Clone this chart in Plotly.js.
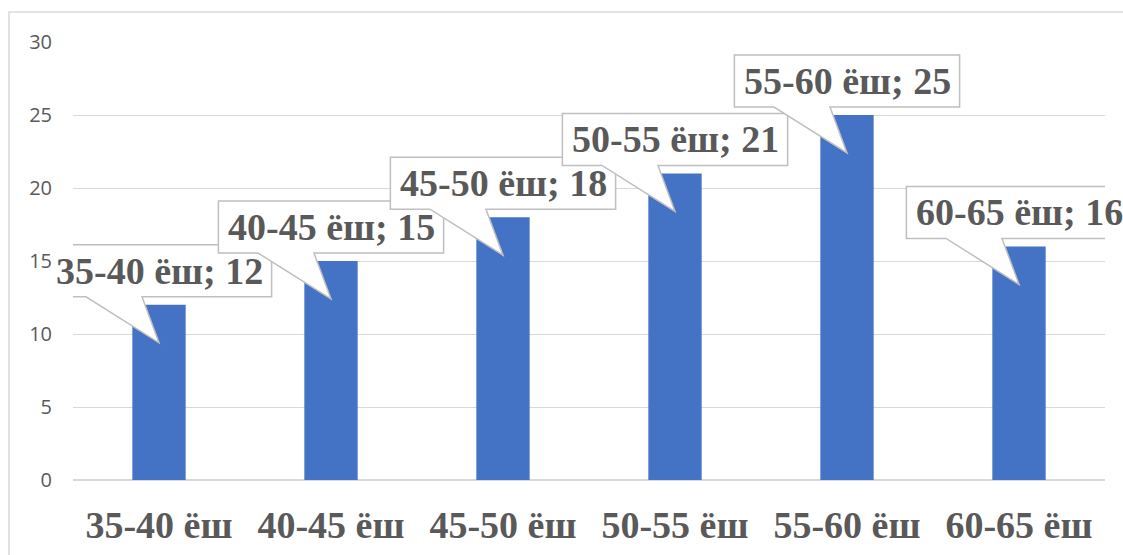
<!DOCTYPE html>
<html>
<head>
<meta charset="utf-8">
<script src="https://cdn.plot.ly/plotly-3.0.1.min.js"></script>
<style>
  html, body { margin: 0; padding: 0; background: #ffffff; }
  #chart { width: 1123px; height: 555px; }
</style>
</head>
<body>
<div id="chart"></div>
<script>
// ---- data ----
const categories = ['35-40 ёш', '40-45 ёш', '45-50 ёш', '50-55 ёш', '55-60 ёш', '60-65 ёш'];
const values = [12, 15, 18, 21, 25, 16];
const yTicks = [0, 5, 10, 15, 20, 25, 30];

// ---- styling ----
const barColor = '#4472C4';
const textColor = '#595959';
const gridColor = '#D9D9D9';
const calloutBorder = '#BFBFBF';
const serif = '"Liberation Serif", "Times New Roman", serif';
const labelSize = 38;

const labels = categories.map((c, i) => c + '; ' + values[i]);

// measure label text width for callout boxes
const ctx = document.createElement('canvas').getContext('2d');
ctx.font = 'bold ' + labelSize + 'px "Liberation Serif"';

const pad = 9, boxBottom = 8, boxTop = 60, wedgeL = -73, wedgeR = -17, tipY = -38;

const shapes = [];
const annotations = [];

// outer chart-area frame (only top/left edges visible)
shapes.push({
  type: 'rect', xref: 'paper', yref: 'paper',
  xsizemode: 'pixel', ysizemode: 'pixel', xanchor: 0, yanchor: 1,
  x0: -64, x1: 2000, y0: 30, y1: -1000,
  line: { color: gridColor, width: 1.5 }, fillcolor: 'rgba(0,0,0,0)', layer: 'below'
});

labels.forEach((t, i) => {
  const hw = (ctx.measureText(t).width + 2 * pad) / 2;
  const path = 'M ' + (-hw) + ',' + boxBottom +
    ' L ' + wedgeL + ',' + boxBottom +
    ' L 0,' + tipY +
    ' L ' + wedgeR + ',' + boxBottom +
    ' L ' + hw + ',' + boxBottom +
    ' L ' + hw + ',' + boxTop +
    ' L ' + (-hw) + ',' + boxTop + ' Z';
  shapes.push({
    type: 'path', xref: 'x', yref: 'y',
    xsizemode: 'pixel', ysizemode: 'pixel',
    xanchor: i, yanchor: values[i],
    path: path,
    fillcolor: '#FFFFFF',
    line: { color: calloutBorder, width: 1.5 },
    layer: 'above'
  });
  annotations.push({
    x: i, y: values[i], xref: 'x', yref: 'y',
    text: '<b>' + t + '</b>', showarrow: false,
    xanchor: 'center', yanchor: 'middle', yshift: (boxBottom + boxTop) / 2,
    font: { family: serif, size: labelSize, color: textColor, weight: 'bold' }
  });
});

const data = [{
  type: 'bar',
  x: categories.map((c, i) => i),
  y: values,
  marker: { color: barColor },
  hoverinfo: 'skip'
}];

const layout = {
  width: 1123, height: 555,
  margin: { l: 73, r: 18, t: 42, b: 75, pad: 0 },
  paper_bgcolor: '#FFFFFF', plot_bgcolor: '#FFFFFF',
  showlegend: false,
  bargap: 0.69,
  xaxis: {
    type: 'linear',
    range: [-0.5, categories.length - 0.5],
    tickmode: 'array',
    tickvals: categories.map((c, i) => i),
    ticktext: categories.map(c => '<b>' + c + '</b>'),
    tickfont: { family: serif, size: labelSize, color: textColor, weight: 'bold' },
    showgrid: false, zeroline: false, showline: false, ticks: '',
    ticklabelstandoff: 19
  },
  yaxis: {
    range: [0, 30],
    tickmode: 'array',
    tickvals: yTicks,
    tickfont: { family: '"Open Sans", "Liberation Sans", sans-serif', size: 20, color: textColor },
    showgrid: true, gridcolor: gridColor, gridwidth: 1,
    zeroline: true, zerolinecolor: gridColor, zerolinewidth: 1.5,
    showline: false, ticks: '',
    ticklabelstandoff: 20
  },
  shapes: shapes,
  annotations: annotations
};

Plotly.newPlot('chart', data, layout, { staticPlot: true, displayModeBar: false }).then(gd => {
  gd.querySelectorAll('.shapelayer path').forEach(p => p.removeAttribute('clip-path'));
});
</script>
</body>
</html>
